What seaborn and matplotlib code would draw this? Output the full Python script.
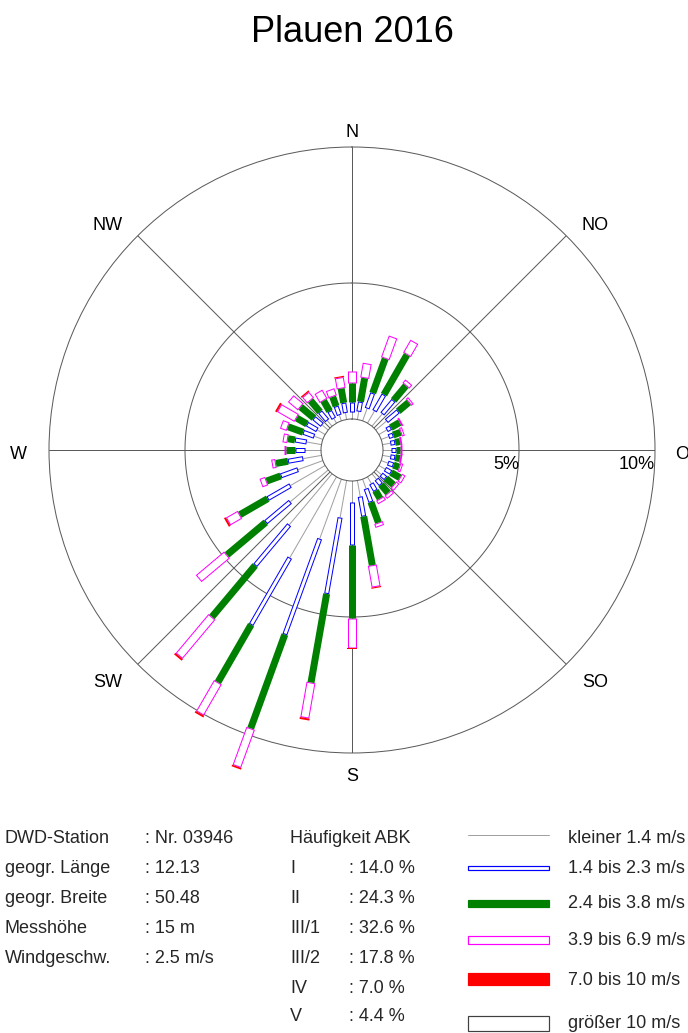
import numpy as np
import pandas as pd
import matplotlib
matplotlib.use("Agg")
import matplotlib.pyplot as plt
import seaborn as sns

# wind direction sectors (deg, clockwise from north)
directions = list(range(10, 370, 10))

# frequency in % per sector and speed class
calm = [0.29, 0.48, 0.51, 0.59, 0.51, 0.33, 0.29, 0.29, 0.29, 0.29, 0.26, 0.26,
        0.26, 0.26, 0.28, 0.37, 0.60, 0.77, 1.38, 2.33, 3.43, 2.45, 1.82, 1.47,
        0.97, 0.68, 0.59, 0.55, 0.33, 0.33, 0.29, 0.27, 0.19, 0.22, 0.24, 0.27]
speed_1 = [0.37, 0.61, 0.70, 0.65, 0.57, 0.18, 0.18, 0.18, 0.18, 0.18, 0.22, 0.26,
           0.22, 0.26, 0.31, 0.53, 0.74, 1.58, 2.85, 3.75, 2.85, 1.95, 1.18, 0.97,
           0.68, 0.57, 0.37, 0.44, 0.44, 0.44, 0.40, 0.42, 0.32, 0.35, 0.38, 0.37]
speed_2 = [0.88, 1.34, 1.69, 0.70, 0.50, 0.37, 0.29, 0.18, 0.15, 0.18, 0.22, 0.37,
           0.37, 0.40, 0.33, 0.80, 1.82, 2.68, 3.31, 3.67, 2.44, 2.47, 1.86, 1.18,
           0.55, 0.45, 0.31, 0.26, 0.59, 0.44, 0.63, 0.54, 0.44, 0.37, 0.53, 0.68]
speed_3 = [0.55, 0.85, 0.55, 0.17, 0.11, 0.07, 0.11, 0.07, 0.07, 0.07, 0.11, 0.15,
           0.15, 0.15, 0.15, 0.15, 0.81, 1.10, 1.32, 1.49, 1.32, 1.88, 1.36, 0.50,
           0.22, 0.15, 0.09, 0.18, 0.26, 0.74, 0.48, 0.29, 0.38, 0.28, 0.41, 0.46]
speed_4 = [0, 0, 0, 0, 0, 0, 0, 0, 0, 0, 0, 0,
           0, 0, 0, 0, 0.04, 0.04, 0.07, 0.06, 0.07, 0.07, 0, 0.07,
           0, 0, 0, 0, 0, 0.07, 0, 0.05, 0, 0, 0.04, 0]
speed_5 = [0] * 36

compass_labels = ["N", "NO", "O", "SO", "S", "SW", "W", "NW"]
compass_angles = [0, 45, 90, 135, 180, 225, 270, 315]
ring_values = [5, 10]

station_keys = ["DWD-Station", "geogr. Länge", "geogr. Breite", "Messhöhe", "Windgeschw."]
station_vals = [": Nr. 03946", ": 12.13", ": 50.48", ": 15 m", ": 2.5 m/s"]
abk_keys = ["Häufigkeit ABK", "I", "II", "III/1", "III/2", "IV", "V"]
abk_vals = ["", ": 14.0 %", ": 24.3 %", ": 32.6 %", ": 17.8 %", ": 7.0 %", ": 4.4 %"]
class_labels = ["kleiner 1.4 m/s", "1.4 bis 2.3 m/s", "2.4 bis 3.8 m/s",
                "3.9 bis 6.9 m/s", "7.0 bis 10 m/s", "größer 10 m/s"]

sns.set_theme(style="white")
plt.rcParams["font.family"] = ["Liberation Sans", "DejaVu Sans"]

W, H = 688, 1033
DPI = 100
CX, CY = 352, 450      # rose centre in pixels
R_OUT = 303            # radius of the 10 % circle
R_HOLE = 31            # radius of the calm hole
PX_PER_PCT = (R_OUT - R_HOLE) / 10.0


def px(n):
    # pixels -> points
    return n * 72.0 / DPI


GRAY = "#a0a0a0"
BLUE = "#0000ff"
GREEN = "#008000"
MAGENTA = "#ff00ff"
RED = "#ff0000"
GRID = "#5a5a5a"

df = pd.DataFrame({"dir": directions, "calm": calm, "s1": speed_1, "s2": speed_2,
                   "s3": speed_3, "s4": speed_4, "s5": speed_5})
cum = df[["calm", "s1", "s2", "s3", "s4", "s5"]].cumsum(axis=1)

fig = plt.figure(figsize=(W / DPI, H / DPI), dpi=DPI)
ax = fig.add_axes([(CX - R_OUT) / W, 1 - (CY + R_OUT) / H, 2 * R_OUT / W, 2 * R_OUT / H],
                  projection="polar")
ax.set_theta_zero_location("N")
ax.set_theta_direction(-1)
ax.set_rlim(0, 10)
ax.set_rorigin(-R_HOLE / PX_PER_PCT)
ax.set_xticks([])
ax.set_yticks([])
ax.grid(False)
for name in ["polar", "inner"]:
    ax.spines[name].set_color(GRID)
    ax.spines[name].set_linewidth(px(1))

# 5 % ring and compass lines
t = np.linspace(0, 2 * np.pi, 400)
ax.plot(t, np.full_like(t, 5.0), color=GRID, lw=px(1), zorder=1)
for a in compass_angles:
    ax.plot([np.deg2rad(a)] * 2, [0, 10], color=GRID, lw=px(1), zorder=1)

d = 1.0 / PX_PER_PCT


def seg(th, r0, r1, color, width, z):
    ax.plot([th, th], [r0, r1], color=color, lw=px(width), solid_capstyle="butt",
            zorder=z, clip_on=False)


def outlined(th, r0, r1, color, width):
    if r1 - r0 <= 0:
        return
    seg(th, r0, r1, color, width, 3)
    if r1 - r0 > 2 * d:
        seg(th, r0 + d, r1 - d, "white", width - 2, 4)


def filled(th, r0, r1, color, width):
    if r1 - r0 <= 0:
        return
    seg(th, r0, r1, color, width, 5)


for i, row in df.iterrows():
    th = np.deg2rad(row["dir"])
    c = [0.0] + list(cum.iloc[i])
    seg(th, c[0], c[1], GRAY, 1, 2)
    outlined(th, c[1], c[2], BLUE, 5)
    filled(th, c[2], c[3], GREEN, 7)
    outlined(th, c[3], c[4], MAGENTA, 9)
    filled(th, c[4], c[5], RED, 10)
    outlined(th, c[5], c[6], "black", 10)

# overlay in pixel coordinates for text and legend
ov = fig.add_axes([0, 0, 1, 1])
ov.set_xlim(0, W)
ov.set_ylim(H, 0)
ov.axis("off")
ov.patch.set_alpha(0)

ov.text(352, 42, "Plauen 2016", fontsize=26, ha="center", va="baseline", color="black")

label_pos = {"N": (352, 137), "NO": (595, 230), "O": (682, 459), "SO": (595, 687),
             "S": (352, 781), "SW": (108, 687), "W": (18, 459), "NW": (108, 230)}
for lab in compass_labels:
    x, y = label_pos[lab]
    ov.text(x, y, lab, fontsize=13, ha="center", va="baseline", color="black")

for v in ring_values:
    x = CX + R_HOLE + v * PX_PER_PCT
    ov.text(x, 469, f"{v}%", fontsize=13, ha="right", va="baseline", color="black")

row_base = [843, 873, 903, 933, 963, 993, 1021]
for k, (a, b) in enumerate(zip(station_keys, station_vals)):
    ov.text(5, row_base[k], a, fontsize=13, va="baseline")
    ov.text(145, row_base[k], b, fontsize=13, va="baseline")
for k, (a, b) in enumerate(zip(abk_keys, abk_vals)):
    ov.text(290, row_base[k], a, fontsize=13, va="baseline")
    if b:
        ov.text(349, row_base[k], b, fontsize=13, va="baseline")

# legend of speed classes
leg_y = [835, 868, 903, 940, 979, 1023]
leg_text_base = [843, 873, 908, 945, 985, 1028]
x0, x1 = 468, 549
ov.plot([x0, x1], [leg_y[0], leg_y[0]], color=GRAY, lw=px(1))
heights = [None, 4, 7, 8, 12, 15]
colors = [None, BLUE, GREEN, MAGENTA, RED, "#404040"]
fills = [None, False, True, False, True, False]
for k in range(1, 6):
    h = heights[k]
    rect = plt.Rectangle((x0, leg_y[k] - h / 2), x1 - x0, h,
                         facecolor=colors[k] if fills[k] else "white",
                         edgecolor=colors[k], lw=px(1.2))
    ov.add_patch(rect)
for k, lab in enumerate(class_labels):
    ov.text(568, leg_text_base[k], lab, fontsize=13, va="baseline")

fig.savefig("out.png", dpi=DPI)
